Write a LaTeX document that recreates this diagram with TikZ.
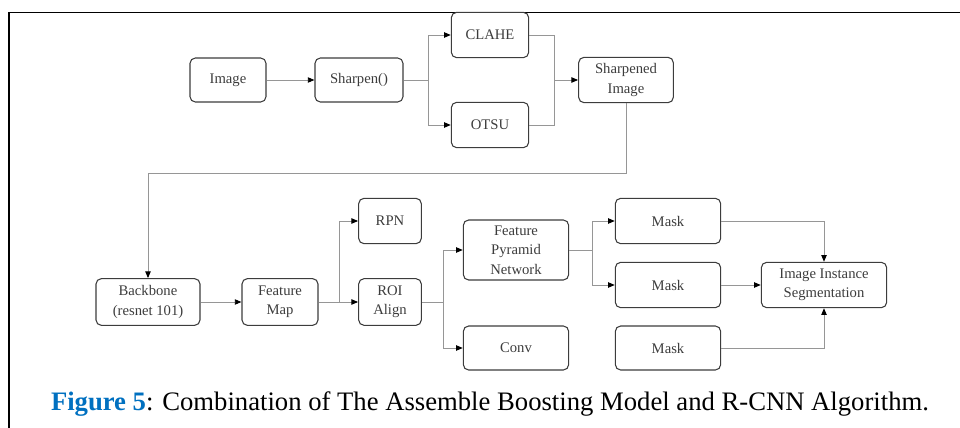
\documentclass[tikz,border=0pt]{standalone}
\usepackage{fontspec}
\setmainfont{Liberation Serif}
\usetikzlibrary{arrows.meta,positioning}
\definecolor{figBlue}{RGB}{0,112,192}
\definecolor{boxGray}{RGB}{60,60,60}
\definecolor{wireGray}{RGB}{150,150,150}
\tikzset{
  procbox/.style={draw=boxGray,rounded corners=4pt,line width=0.8pt,align=center,text=boxGray,font=\fontsize{11}{14.5}\selectfont,inner sep=0pt},
  flowline/.style={draw=wireGray,line width=0.7pt},
  flowarrow/.style={flowline,-{Triangle[length=5pt,width=4pt,color=black]}}
}
\begin{document}
\begin{tikzpicture}[x=0.75pt,y=-0.75pt]
  \useasboundingbox (0,0) rectangle (960,428);
  % outer frame
  \draw[line width=1.4pt] (9,428) -- (9,12.5) -- (960,12.5);
  % upper row
  \node[procbox,minimum width=57pt,minimum height=33pt] (image) at (228,80) {Image};
  \node[procbox,minimum width=66pt,minimum height=33pt] (sharpen) at (359,80) {Sharpen()};
  \node[procbox,minimum width=58pt,minimum height=34pt] (clahe) at (490,35) {CLAHE};
  \node[procbox,minimum width=58pt,minimum height=34pt] (otsu) at (490,125) {OTSU};
  \node[procbox,minimum width=71pt,minimum height=34pt] (sharped) at (626,80) {Sharpened\\Image};
  % lower row
  \node[procbox,minimum width=78pt,minimum height=35pt] (backbone) at (148,302) {Backbone\\(resnet 101)};
  \node[procbox,minimum width=57pt,minimum height=35pt] (fmap) at (280,302) {Feature\\Map};
  \node[procbox,minimum width=47pt,minimum height=34pt] (rpn) at (390,221) {RPN};
  \node[procbox,minimum width=47pt,minimum height=35pt] (roi) at (390,302) {ROI\\Align};
  \node[procbox,minimum width=79pt,minimum height=45pt] (fpn) at (516,250) {Feature\\Pyramid\\Network};
  \node[procbox,minimum width=79pt,minimum height=33pt] (conv) at (516,348) {Conv};
  \node[procbox,minimum width=79pt,minimum height=34pt] (mask1) at (668,221) {Mask};
  \node[procbox,minimum width=79pt,minimum height=34pt] (mask2) at (668,285) {Mask};
  \node[procbox,minimum width=79pt,minimum height=33pt] (mask3) at (668,348) {Mask};
  \node[procbox,minimum width=94pt,minimum height=34pt] (segm) at (824,285) {Image Instance\\Segmentation};
  % junctions
  \coordinate (split1) at (428,80);
  \coordinate (merge1) at (554,80);
  \coordinate (turn1) at (148,173);
  \coordinate (split2) at (339,302);
  \coordinate (split3) at (443,302);
  \coordinate (split4) at (592,250);
  % connectors
  \draw[flowarrow] (image) -- (sharpen);
  \draw[flowline] (sharpen) -- (split1);
  \draw[flowarrow] (split1) |- (clahe);
  \draw[flowarrow] (split1) |- (otsu);
  \draw[flowline] (clahe) -| (merge1);
  \draw[flowline] (otsu) -| (merge1);
  \draw[flowarrow] (merge1) -- (sharped);
  \draw[flowarrow] (sharped.south) |- (turn1) -- (backbone);
  \draw[flowarrow] (backbone) -- (fmap);
  \draw[flowline] (fmap) -- (split2);
  \draw[flowarrow] (split2) |- (rpn);
  \draw[flowarrow] (split2) -- (roi);
  \draw[flowline] (roi) -- (split3);
  \draw[flowarrow] (split3) |- (fpn);
  \draw[flowarrow] (split3) |- (conv);
  \draw[flowline] (fpn) -- (split4);
  \draw[flowarrow] (split4) |- (mask1);
  \draw[flowarrow] (split4) |- (mask2);
  \draw[flowarrow] (mask1) -| (segm);
  \draw[flowarrow] (mask2) -- (segm);
  \draw[flowarrow] (mask3) -| (segm);
  % caption
  \node[anchor=base,inner sep=0pt,font=\fontsize{20}{24}\selectfont] (caption) at (490,410) {\textcolor{figBlue}{\textbf{Figure 5}}: Combination of The Assemble Boosting Model and R-CNN Algorithm.};
\end{tikzpicture}
\end{document}
